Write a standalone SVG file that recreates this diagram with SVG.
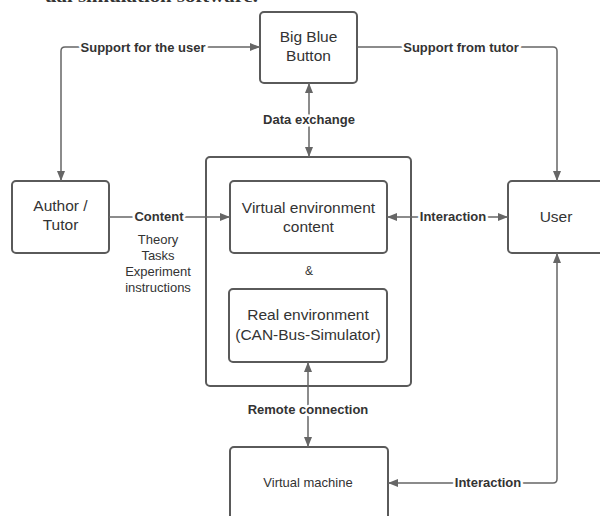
<svg xmlns="http://www.w3.org/2000/svg" width="600" height="516" viewBox="0 0 600 516">
  <style>
    .box { fill: #ffffff; stroke: #5a5a5a; stroke-width: 2; }
    .frame { fill: none; stroke: #5a5a5a; stroke-width: 2; }
    .t { font-family: "Liberation Sans", Arial, sans-serif; font-size: 15.5px; fill: #333333; text-anchor: middle; dominant-baseline: central; }
    .s { font-size: 13px; }
    .lbl { font-family: "Liberation Sans", Arial, sans-serif; font-size: 13px; font-weight: bold; fill: #333333; text-anchor: middle; dominant-baseline: central; stroke: #ffffff; stroke-width: 5px; paint-order: stroke; stroke-linejoin: round; }
    .c { fill: none; stroke: #666666; stroke-width: 1.5; }
    .cap { font-family: "Liberation Serif", "Times New Roman", serif; font-size: 16px; font-weight: bold; fill: #333333; }
  </style>
  <defs>
    <marker id="ah" viewBox="0 0 10 8" refX="10" refY="4" markerUnits="userSpaceOnUse" markerWidth="10" markerHeight="8" orient="auto-start-reverse">
      <path d="M0,0 L10,4 L0,8 z" fill="#666666"/>
    </marker>
  </defs>
  <rect width="600" height="516" fill="#ffffff"/>
  <text class="cap" x="45" y="1.5" textLength="213" lengthAdjust="spacingAndGlyphs">ual simulation software.</text>

  <g id="outer">
    <rect class="frame" x="206" y="157" width="205" height="229" rx="4"/>
    <text class="t" x="309" y="271" style="font-size:12px">&amp;</text>
  </g>

  <g id="bbb">
    <rect class="box" x="260" y="12" width="97" height="71" rx="4"/>
    <text class="t" x="308.5" y="36">Big Blue</text>
    <text class="t" x="308.5" y="55">Button</text>
  </g>

  <g id="author">
    <rect class="box" x="12" y="181" width="97" height="72" rx="4"/>
    <text class="t" x="60.5" y="205">Author /</text>
    <text class="t" x="60.5" y="224">Tutor</text>
  </g>

  <g id="content-notes">
    <text class="t s" x="158" y="239">Theory</text>
    <text class="t s" x="158" y="255">Tasks</text>
    <text class="t s" x="158" y="271">Experiment</text>
    <text class="t s" x="158" y="287">instructions</text>
  </g>

  <g id="virtual-env">
    <rect class="box" x="230" y="181" width="157" height="72" rx="4"/>
    <text class="t" x="308.5" y="207">Virtual environment</text>
    <text class="t" x="308.5" y="226">content</text>
  </g>

  <g id="real-env">
    <rect class="box" x="229" y="289" width="158" height="73" rx="4"/>
    <text class="t" x="308" y="314">Real environment</text>
    <text class="t" x="308" y="334">(CAN-Bus-Simulator)</text>
  </g>

  <g id="user">
    <rect class="box" x="508" y="181" width="100" height="72" rx="4"/>
    <text class="t" x="556" y="216">User</text>
  </g>

  <g id="vm">
    <rect class="box" x="230" y="447" width="158" height="90" rx="4"/>
    <text class="t s" x="308" y="482">Virtual machine</text>
  </g>

  <g id="connectors">
    <path class="c" d="M61,181 L61,51 Q61,47 65,47 L260,47" marker-start="url(#ah)" marker-end="url(#ah)"/>
    <path class="c" d="M357,47 L553,47 Q557,47 557,51 L557,181" marker-end="url(#ah)"/>
    <path class="c" d="M309,83 L309,157" marker-start="url(#ah)" marker-end="url(#ah)"/>
    <path class="c" d="M109,217 L230,217" marker-end="url(#ah)"/>
    <path class="c" d="M387,217 L508,217" marker-start="url(#ah)" marker-end="url(#ah)"/>
    <path class="c" d="M308,362 L308,447" marker-start="url(#ah)" marker-end="url(#ah)"/>
    <path class="c" d="M557,253 L557,479 Q557,483 553,483 L388,483" marker-start="url(#ah)" marker-end="url(#ah)"/>
    <text class="lbl" x="143" y="47">Support for the user</text>
    <text class="lbl" x="461" y="47">Support from tutor</text>
    <text class="lbl" x="309" y="119">Data exchange</text>
    <text class="lbl" x="159" y="216">Content</text>
    <text class="lbl" x="453" y="216">Interaction</text>
    <text class="lbl" x="308" y="409">Remote connection</text>
    <text class="lbl" x="488" y="482">Interaction</text>
  </g>
</svg>
